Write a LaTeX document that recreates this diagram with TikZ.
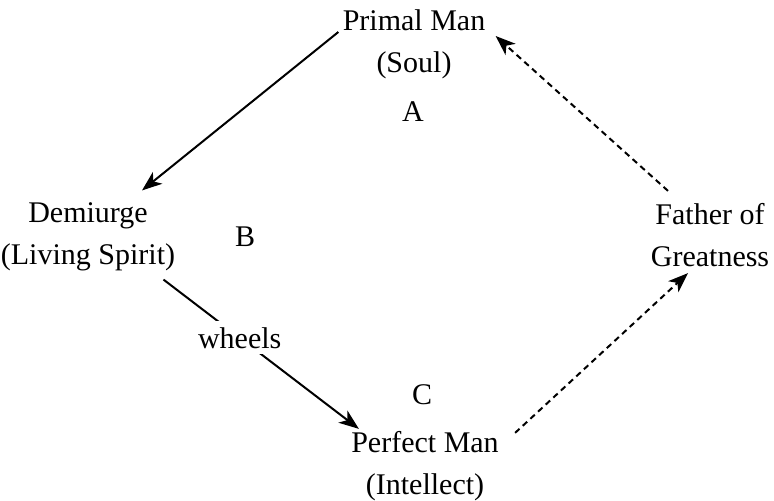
\documentclass[tikz,border=0pt]{standalone}
\usepackage{fontspec}
\setmainfont{Liberation Serif}
\usepackage{tikz}
\usetikzlibrary{shapes,arrows.meta,positioning}

\begin{document}
\begin{tikzpicture}[x=0.5pt, y=-0.5pt,
    figure/.style={align=center, inner sep=0pt, font=\fontsize{15}{21}\selectfont},
    letter/.style={inner sep=0pt, font=\fontsize{15}{21}\selectfont},
    link/.style={line width=1pt, -{Stealth[length=10pt, width=7.5pt, inset=2.8pt]}},
    dashlink/.style={link, dash pattern=on 3pt off 2.2pt}]
    \useasboundingbox (0,0) rectangle (774,500);

    % the four figures
    \node[figure] (primal) at (414,44) {Primal Man\\(Soul)};
    \node[figure] (demiurge) at (88,237) {Demiurge\\(Living Spirit)};
    \node[figure] (father) at (710,235) {Father of\\Greatness};
    \node[figure] (perfect) at (425,466) {Perfect Man\\(Intellect)};

    % letters
    \node[letter] (lA) at (413,112) {A};
    \node[letter] (lB) at (245,237) {B};
    \node[letter] (lC) at (422,395) {C};

    % connectors
    \draw[link] ([xshift=-2pt, yshift=6pt]primal.west) -- ([xshift=27pt, yshift=6pt]demiurge.north);
    \draw[link] ([xshift=-6pt, yshift=-4pt]demiurge.south east)
        -- node[pos=0.39, fill=white, inner sep=3pt, font=\fontsize{15}{21}\selectfont] (wheels) {wheels}
        ([xshift=4pt, yshift=1pt]perfect.north west);
    \draw[dashlink] ([xshift=8pt, yshift=-1pt]perfect.north east) -- ([xshift=-11pt, yshift=-3pt]father.south);
    \draw[dashlink] ([xshift=-21pt, yshift=6pt]father.north) -- ([xshift=5pt, yshift=4pt]primal.east);
\end{tikzpicture}
\end{document}
